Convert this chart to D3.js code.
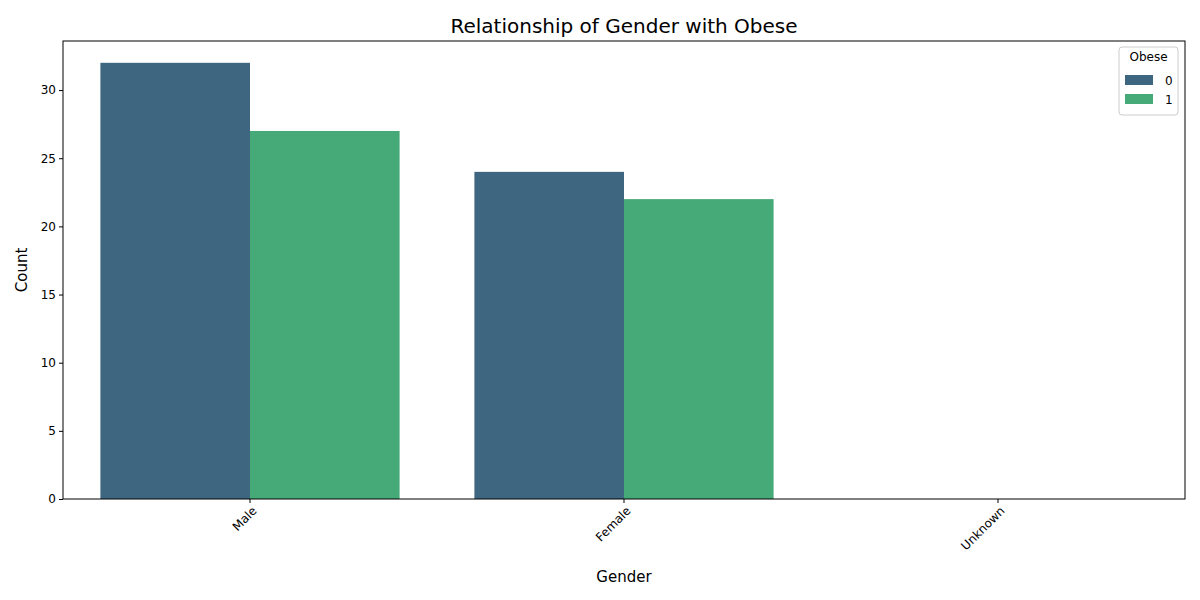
<!DOCTYPE html>
<html><head><meta charset="utf-8">
<script src="https://cdn.jsdelivr.net/npm/d3@7"></script>
<style>body{margin:0;background:#fff}text{font-family:"DejaVu Sans",sans-serif}</style>
</head><body><main></main>
<script>
// counts per gender, split by Obese flag
let genders = ["Male", "Female", "Unknown"]
let groups = ["0", "1"]
let obese0 = [32, 24, 0]
let obese1 = [27, 22, 0]
let yTicks = [0, 5, 10, 15, 20, 25, 30]
let colors = ["#3e6680", "#46a978"]

const plotLeft = 63, plotRight = 1185, plotTop = 41, plotBottom = 499

let svg = d3.select("main").append("svg").attr("width", 1200).attr("height", 600)

let xScale = d3.scaleBand().domain(genders).range([plotLeft, plotRight]).paddingInner(0.2).paddingOuter(0.1)
let inner = d3.scaleBand().domain(groups).range([0, xScale.bandwidth()])
let yScale = d3.scaleLinear().domain([0, 33.6]).range([plotBottom, plotTop])

let rows = genders.map((g, i) => ({g: g, vals: [obese0[i], obese1[i]]}))

svg.append("g").selectAll("g").data(rows).enter().append("g")
  .attr("transform", d => `translate(${xScale(d.g)},0)`)
  .selectAll("rect").data(d => d.vals.map((v, j) => ({k: groups[j], v: v})))
  .enter().append("rect")
  .attr("x", d => inner(d.k))
  .attr("width", inner.bandwidth())
  .attr("y", d => yScale(d.v))
  .attr("height", d => plotBottom - yScale(d.v))
  .style("fill", (d, j) => colors[j])

// frame
svg.append("rect").attr("x", plotLeft).attr("y", plotTop).attr("width", plotRight - plotLeft).attr("height", plotBottom - plotTop)
  .style("fill", "none").style("stroke", "black").style("stroke-width", 1)

let yAxis = svg.append("g").attr("transform", `translate(${plotLeft},0)`)
  .call(d3.axisLeft(yScale).tickValues(yTicks).tickSize(4).tickSizeOuter(0))
yAxis.select("path").remove()
yAxis.selectAll("text").style("font-size", "12px").attr("fill", "black")

let xAxis = svg.append("g").attr("transform", `translate(0,${plotBottom})`)
  .call(d3.axisBottom(xScale).tickSize(4).tickSizeOuter(0))
xAxis.select("path").remove()
xAxis.selectAll("text").style("font-size", "12px").attr("fill", "black")
  .style("text-anchor", "end").attr("dx", "-0.3em").attr("dy", "0.6em")
  .attr("transform", "rotate(-45)")

svg.append("text").attr("x", (plotLeft + plotRight) / 2).attr("y", 33).attr("text-anchor", "middle")
  .style("font-size", "20px").text("Relationship of Gender with Obese")
svg.append("text").attr("x", (plotLeft + plotRight) / 2).attr("y", 582).attr("text-anchor", "middle")
  .style("font-size", "15px").text("Gender")
svg.append("text").attr("transform", `translate(27,${(plotTop + plotBottom) / 2}) rotate(-90)`)
  .attr("text-anchor", "middle").style("font-size", "15px").text("Count")

// legend
let lg = svg.append("g").attr("transform", "translate(1119,47)")
lg.append("rect").attr("width", 59).attr("height", 68).attr("rx", 3)
  .style("fill", "white").style("stroke", "#ccc")
lg.append("text").attr("x", 29.5).attr("y", 14).attr("text-anchor", "middle").style("font-size", "12px").text("Obese")
groups.forEach((g, i) => {
  lg.append("rect").attr("x", 6).attr("y", 28 + i * 19).attr("width", 28).attr("height", 10).style("fill", colors[i])
  lg.append("text").attr("x", 46).attr("y", 38 + i * 19).style("font-size", "12px").text(g)
})
</script></body></html>
